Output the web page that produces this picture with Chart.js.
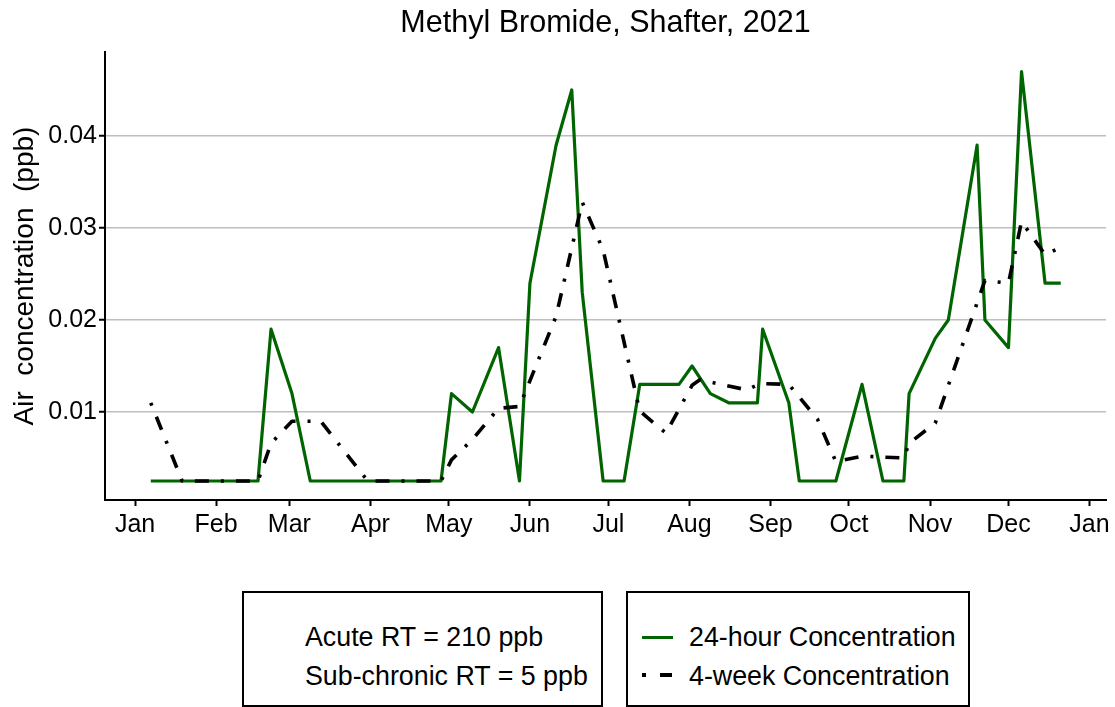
<!DOCTYPE html>
<html>
<head>
<meta charset="utf-8">
<title>Methyl Bromide, Shafter, 2021</title>
<script src="https://cdn.jsdelivr.net/npm/chart.js@4.4.1/dist/chart.umd.min.js"></script>
<style>
  html, body { margin: 0; padding: 0; background: #fff; }
  body { width: 1115px; height: 707px; position: relative; overflow: hidden;
         font-family: "Liberation Sans", Arial, sans-serif; color: #000; }
  #wrap { position: absolute; left: 0; top: 0; width: 1115px; height: 560px; }
  .box { position: absolute; border: 2px solid #000; box-sizing: border-box; }
  .txt { position: absolute; font-size: 26.8px; line-height: 30px; white-space: pre; }
  .key { position: absolute; }
</style>
</head>
<body>
<div id="wrap"><canvas id="chart" width="1115" height="560"></canvas></div>

<div class="box" style="left:242px; top:591px; width:361px; height:116px;"></div>
<div class="txt" style="left:305px; top:622px;">Acute RT = 210 ppb</div>
<div class="txt" style="left:305px; top:661px;">Sub-chronic RT = 5 ppb</div>

<div class="box" style="left:626px; top:591px; width:344px; height:116px;"></div>
<div class="key" style="left:642px; top:636px; width:31px; height:3px; background:#006400;"></div>
<div class="key" style="left:642px; top:673px; width:4px; height:4px; background:#000;"></div>
<div class="key" style="left:660px; top:673px; width:12px; height:4px; background:#000;"></div>
<div class="txt" style="left:689px; top:622px;">24-hour Concentration</div>
<div class="txt" style="left:689px; top:661px;">4-week Concentration</div>

<script>
// 24-hour samples
var dayDates = ['2021-01-07','2021-02-17','2021-02-22','2021-03-02','2021-03-09','2021-04-28',
  '2021-05-02','2021-05-10','2021-05-20','2021-05-28','2021-06-01','2021-06-11','2021-06-17',
  '2021-06-21','2021-06-29','2021-07-07','2021-07-13','2021-07-28','2021-08-02','2021-08-09',
  '2021-08-16','2021-08-27','2021-08-29','2021-09-08','2021-09-12','2021-09-26','2021-10-06',
  '2021-10-14','2021-10-22','2021-10-24','2021-11-03','2021-11-08','2021-11-19','2021-11-22',
  '2021-12-01','2021-12-06','2021-12-15','2021-12-21'];
var dayValues = [0.0025,0.0025,0.019,0.012,0.0025,0.0025,
  0.012,0.010,0.017,0.0025,0.024,0.039,0.045,
  0.023,0.0025,0.0025,0.013,0.013,0.015,0.012,
  0.011,0.011,0.019,0.011,0.0025,0.0025,0.013,
  0.0025,0.0025,0.012,0.018,0.020,0.039,0.020,
  0.017,0.047,0.024,0.024];

// 4-week concentration
var weekDates = ['2021-01-07','2021-01-19','2021-02-17','2021-02-22','2021-03-02','2021-03-13',
  '2021-03-31','2021-04-28','2021-05-02','2021-05-10','2021-05-20','2021-05-28','2021-06-11',
  '2021-06-21','2021-06-29','2021-07-13','2021-07-23','2021-08-02','2021-08-05','2021-08-23',
  '2021-08-28','2021-09-08','2021-09-19','2021-09-26','2021-10-06','2021-10-22','2021-10-24',
  '2021-11-03','2021-11-22','2021-12-01','2021-12-06','2021-12-15','2021-12-21'];
var weekValues = [0.011,0.0025,0.0025,0.0066,0.009,0.009,
  0.0025,0.0025,0.0048,0.007,0.0104,0.0106,0.0204,
  0.0328,0.0276,0.0101,0.0077,0.0129,0.0135,0.0124,
  0.0131,0.013,0.0092,0.0046,0.0052,0.005,0.0066,
  0.0088,0.0243,0.024,0.0307,0.0271,0.0279];

var monthStarts = ['2021-01-01','2021-02-01','2021-03-01','2021-04-01','2021-05-01','2021-06-01',
  '2021-07-01','2021-08-01','2021-09-01','2021-10-01','2021-11-01','2021-12-01','2022-01-01'];
var monthLabels = ['Jan','Feb','Mar','Apr','May','Jun','Jul','Aug','Sep','Oct','Nov','Dec','Jan'];
var yTicks = [0.01, 0.02, 0.03, 0.04];

// days since Jan 1 2021
function dayOf(s) {
  var p = s.split('-').map(Number);
  return (Date.UTC(p[0], p[1] - 1, p[2]) - Date.UTC(2021, 0, 1)) / 864e5;
}
function toPoints(dates, vals) {
  return dates.map(function (d, i) { return { x: dayOf(d), y: vals[i] }; });
}

Chart.defaults.font.family = '"Liberation Sans", Arial, sans-serif';
Chart.defaults.color = '#000';

var chart = new Chart(document.getElementById('chart').getContext('2d'), {
  type: 'line',
  data: {
    datasets: [{
      label: '24-hour Concentration',
      data: toPoints(dayDates, dayValues),
      borderColor: '#006400',
      borderWidth: 3.2,
      borderJoinStyle: 'round',
      pointRadius: 0,
      tension: 0,
      order: 2
    }, {
      label: '4-week Concentration',
      data: toPoints(weekDates, weekValues),
      borderColor: '#000',
      borderWidth: 3.6,
      borderDash: [3, 12, 14, 12],
      borderCapStyle: 'butt',
      borderJoinStyle: 'round',
      pointRadius: 0,
      tension: 0,
      order: 1
    }]
  },
  options: {
    responsive: false,
    animation: false,
    layout: { padding: { left: 0, right: 9, top: 0, bottom: 0 } },
    plugins: {
      legend: { display: false },
      tooltip: { enabled: false },
      title: {
        display: true,
        fullSize: false,
        text: 'Methyl Bromide, Shafter, 2021',
        color: '#000',
        font: { size: 30.5, weight: 'normal' },
        padding: { top: 5, bottom: 10.4 }
      }
    },
    scales: {
      x: {
        type: 'linear',
        min: -11.5,
        max: 371.3,
        afterBuildTicks: function (scale) {
          scale.ticks = monthStarts.map(function (d) { return { value: dayOf(d) }; });
        },
        afterFit: function (scale) { scale.height = 60; },
        ticks: {
          autoSkip: false,
          maxRotation: 0,
          padding: 4,
          font: { size: 25 },
          callback: function (v, i) { return monthLabels[i]; }
        },
        grid: { drawOnChartArea: false, drawTicks: true, tickLength: 6, tickColor: '#000', tickWidth: 2 },
        border: { color: '#000', width: 2 }
      },
      y: {
        min: 0.000435,
        max: 0.04913,
        afterBuildTicks: function (scale) {
          scale.ticks = yTicks.map(function (v) { return { value: v }; });
        },
        afterFit: function (scale) { scale.width = 105; },
        ticks: {
          padding: 2,
          font: { size: 25 },
          callback: function (v) { return v.toFixed(2); }
        },
        grid: { color: '#bebebe', lineWidth: 1.5, drawTicks: true, tickLength: 6, tickColor: '#000', tickWidth: 2 },
        border: { color: '#000', width: 2 },
        title: {
          display: true,
          text: 'Air  concentration  (ppb)',
          font: { size: 28 },
          padding: { top: 8, bottom: 0 }
        }
      }
    }
  }
});
</script>
</body>
</html>
